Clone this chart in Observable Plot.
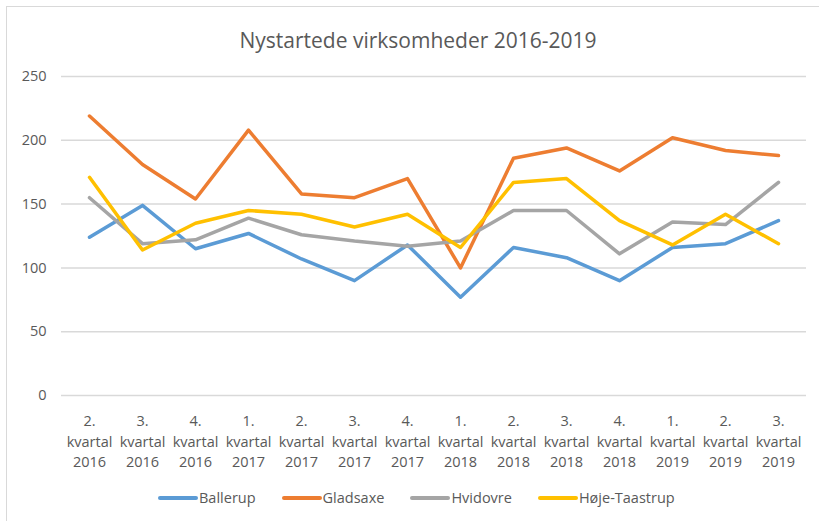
<!DOCTYPE html>
<html>
<head>
<meta charset="utf-8">
<script src="https://cdn.jsdelivr.net/npm/d3@7"></script>
<script src="https://cdn.jsdelivr.net/npm/@observablehq/plot@0.6"></script>
<style>
  html, body { margin: 0; padding: 0; background: #fff; }
  #wrap { position: relative; width: 819px; height: 521px; overflow: hidden; font-family: "Open Sans", sans-serif; color: #595959; }
  #frame { position: absolute; left: 6px; top: 6px; width: 830px; height: 530px; border-left: 1.5px solid #d9d9d9; border-top: 1.5px solid #d9d9d9; }
  #title { position: absolute; top: 27px; left: 0; width: 836px; text-align: center; font-size: 21px; line-height: 26px; }
  #chart { position: absolute; left: 0; top: 0; }
  #legend { position: absolute; left: 158px; top: 487px; display: flex; gap: 26px; font-size: 14.5px; line-height: 22px; }
  .item { display: flex; align-items: center; }
  .sw { width: 40px; height: 4px; border-radius: 2px; margin-right: 1px; }
</style>
</head>
<body>
<div id="wrap">
  <div id="frame"></div>
  <div id="title">Nystartede virksomheder 2016-2019</div>
  <div id="chart"></div>
  <div id="legend"></div>
</div>
<script>
const quarters = [
  "2.\nkvartal\n2016", "3.\nkvartal\n2016", "4.\nkvartal\n2016",
  "1.\nkvartal\n2017", "2.\nkvartal\n2017", "3.\nkvartal\n2017", "4.\nkvartal\n2017",
  "1.\nkvartal\n2018", "2.\nkvartal\n2018", "3.\nkvartal\n2018", "4.\nkvartal\n2018",
  "1.\nkvartal\n2019", "2.\nkvartal\n2019", "3.\nkvartal\n2019"
];
const seriesNames = ["Ballerup", "Gladsaxe", "Hvidovre", "Høje-Taastrup"];
const seriesColors = ["#5B9BD5", "#ED7D31", "#A5A5A5", "#FFC000"];
const ballerup     = [124, 149, 115, 127, 107, 90, 118, 77, 116, 108, 90, 116, 119, 137];
const gladsaxe     = [219, 181, 154, 208, 158, 155, 170, 100, 186, 194, 176, 202, 192, 188];
const hvidovre     = [155, 119, 122, 139, 126, 121, 117, 121, 145, 145, 111, 136, 134, 167];
const hojeTaastrup = [171, 114, 135, 145, 142, 132, 142, 116, 167, 170, 137, 118, 142, 119];
const yTicks = [0, 50, 100, 150, 200, 250];

const seriesValues = [ballerup, gladsaxe, hvidovre, hojeTaastrup];
const rows = [];
seriesNames.forEach((name, i) => {
  quarters.forEach((q, j) => rows.push({series: name, quarter: q, value: seriesValues[i][j]}));
});

const chart = Plot.plot({
  width: 819,
  height: 480,
  marginLeft: 61,
  marginRight: 13,
  marginTop: 76,
  marginBottom: 85,
  style: {fontFamily: "Open Sans, sans-serif", fontSize: "14.5px", color: "#595959", background: "transparent", overflow: "visible"},
  x: {type: "point", domain: quarters, padding: 0.5},
  y: {domain: [0, 250], ticks: yTicks},
  color: {domain: seriesNames, range: seriesColors},
  marks: [
    Plot.ruleY(yTicks, {stroke: "#d9d9d9", strokeWidth: 1.5}),
    Plot.axisY({ticks: yTicks, tickSize: 0, tickPadding: 15, label: null, fill: "#595959", fontSize: 14.5}),
    Plot.axisX({tickSize: 0, tickPadding: 16, label: null, fill: "#595959", fontSize: 14.5, lineHeight: 1.42, lineAnchor: "top"}),
    Plot.line(rows, {x: "quarter", y: "value", z: "series", stroke: "series", strokeWidth: 3.5, strokeLinejoin: "round", strokeLinecap: "round"})
  ]
});
document.getElementById("chart").appendChild(chart);

const legend = document.getElementById("legend");
seriesNames.forEach((name, i) => {
  const item = document.createElement("div");
  item.className = "item";
  const sw = document.createElement("span");
  sw.className = "sw";
  sw.style.background = seriesColors[i];
  const t = document.createElement("span");
  t.textContent = name;
  item.appendChild(sw);
  item.appendChild(t);
  legend.appendChild(item);
});
</script>
</body>
</html>
